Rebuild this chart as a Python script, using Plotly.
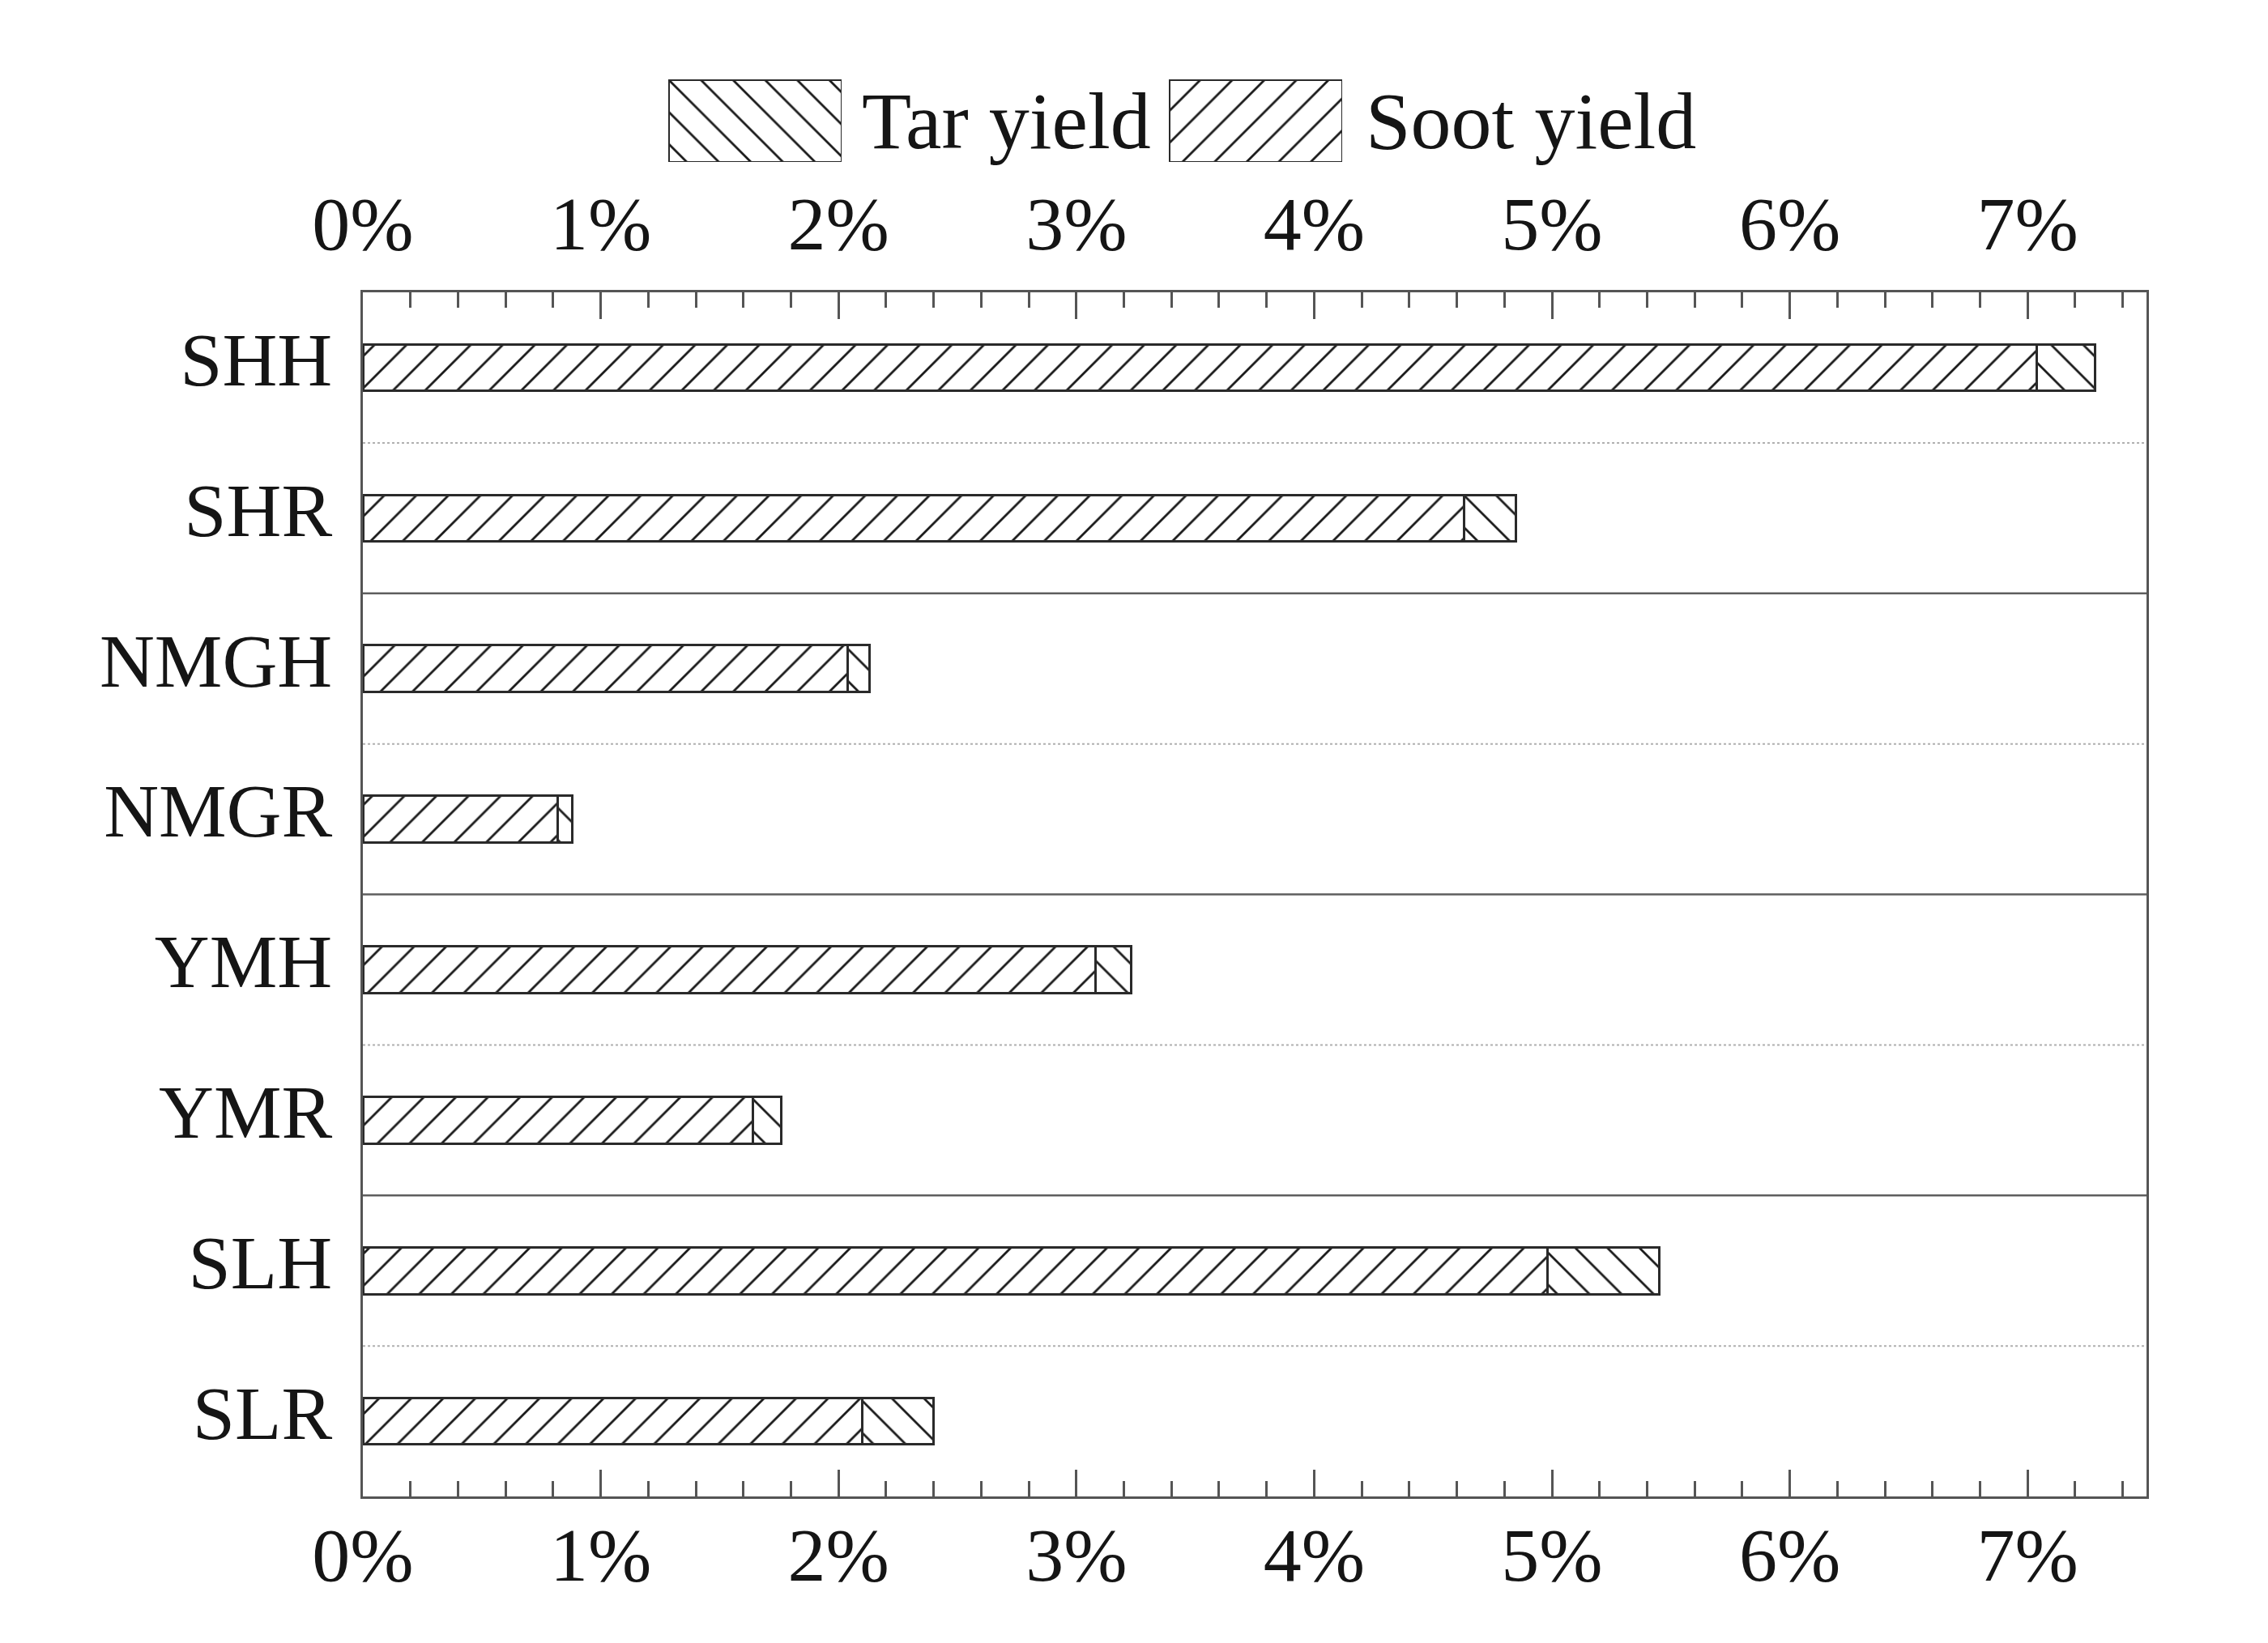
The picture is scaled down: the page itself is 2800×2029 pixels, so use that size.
import plotly.graph_objects as go

# ---- data (percent) ----
categories = ["SHH", "SHR", "NMGH", "NMGR", "YMH", "YMR", "SLH", "SLR"]
soot_yield = [7.04, 4.63, 2.04, 0.82, 3.08, 1.64, 4.98, 2.10]
tar_yield = [0.245, 0.22, 0.09, 0.06, 0.15, 0.12, 0.47, 0.30]
series_names = ["Tar yield", "Soot yield"]
x_ticks = [0, 1, 2, 3, 4, 5, 6, 7]
x_tick_text = ["0%", "1%", "2%", "3%", "4%", "5%", "6%", "7%"]
AXIS_MAX = 7.5
LEGEND_KEY_FULL = 1

# page body has an 8px margin; size the figure so it fills the window
OFF = 8
W, H = 2800 - OFF, 2029 - OFF
FONT = "Liberation Serif, Times New Roman, serif"
TXT = "#151515"
EDGE = "#2a2a2a"
HATCH = "#1a1a1a"
AX = "#555555"

# plot area in window pixels -> figure pixels
L, R, T, B = 448 - OFF, 2650 - OFF, 361 - OFF, 1848 - OFF
xdom = [L / W, R / W]
ydom = [1 - B / H, 1 - T / H]

def pat(shape):
    return dict(shape=shape, size=28, solidity=0.1, fgcolor=HATCH, fgopacity=1,
                bgcolor="white", fillmode="replace")

fig = go.Figure()
fig.add_trace(go.Bar(
    y=categories, x=soot_yield, orientation="h", name=series_names[1],
    width=0.31, showlegend=False,
    marker=dict(color="white", line=dict(color=EDGE, width=3), pattern=pat("/")),
))
fig.add_trace(go.Bar(
    y=categories, x=tar_yield, orientation="h", name=series_names[0],
    width=0.31, showlegend=False,
    marker=dict(color="white", line=dict(color=EDGE, width=3), pattern=pat("\\")),
))
# invisible copy on the top axis so that the top scale is drawn
fig.add_trace(go.Bar(
    y=categories, x=soot_yield, orientation="h", xaxis="x2", width=0.31,
    opacity=0, hoverinfo="skip", showlegend=False,
))

# legend keys as large hatched swatches on small auxiliary axes
key_boxes = {  # window-pixel boxes of the legend swatches
    "Tar yield": (825, 1039, 98, 200),
    "Soot yield": (1443, 1657, 98, 200),
}
key_shapes = {"Tar yield": "\\", "Soot yield": "/"}
text_x = {"Tar yield": 1062, "Soot yield": 1684}
for i, name in enumerate(series_names):
    x0, x1, y0, y1 = [v - OFF for v in key_boxes[name]]
    n = i + 3
    fig.add_trace(go.Bar(
        x=[LEGEND_KEY_FULL], y=[name], orientation="h", width=1,
        xaxis=f"x{n}", yaxis=f"y{n}", showlegend=False, hoverinfo="skip",
        cliponaxis=False,
        marker=dict(color="white", line=dict(color=EDGE, width=3), pattern=pat(key_shapes[name])),
    ))
    fig.update_layout(**{
        f"xaxis{n}": dict(domain=[x0 / W, x1 / W], range=[0, LEGEND_KEY_FULL], visible=False,
                          anchor=f"y{n}", fixedrange=True, automargin=False),
        f"yaxis{n}": dict(domain=[1 - y1 / H, 1 - y0 / H], range=[-0.5, 0.5], visible=False,
                          anchor=f"x{n}", fixedrange=True, automargin=False),
    })
    fig.add_annotation(
        text=name, x=(text_x[name] - OFF) / W, y=1 - (150 - OFF) / H, xref="paper", yref="paper",
        xanchor="left", yanchor="middle", showarrow=False,
        font=dict(family=FONT, size=100, color=TXT),
    )

# separator lines between categories
for i in range(len(categories) - 1):
    solid = (i % 2 == 1)
    fig.add_shape(
        type="line", xref="x domain", yref="y", x0=0, x1=1, y0=i + 0.5, y1=i + 0.5,
        line=dict(color="#5e5e5e" if solid else "#b0b0b0", width=2.5 if solid else 2,
                  dash="solid" if solid else "dot"),
        layer="below",
    )

xcommon = dict(
    range=[0, AXIS_MAX], tickvals=x_ticks, ticktext=x_tick_text,
    ticks="inside", ticklen=33, tickwidth=2.5, tickcolor=AX,
    minor=dict(dtick=0.2, ticks="inside", ticklen=19, tickwidth=2.5, tickcolor=AX),
    showgrid=False, zeroline=False, automargin=False,
    tickfont=dict(family=FONT, size=94, color=TXT),
)

fig.update_layout(
    width=W, height=H,
    margin=dict(l=0, r=0, t=0, b=0, autoexpand=False),
    paper_bgcolor="white", plot_bgcolor="white",
    barmode="stack",
    showlegend=False,
    xaxis=dict(domain=xdom, anchor="y", showline=True, linecolor=AX, linewidth=3,
               mirror=True, side="bottom", ticklabelstandoff=-12, **xcommon),
    xaxis2=dict(overlaying="x", anchor="y", side="top", showline=False,
                ticklabelstandoff=33, **xcommon),
    yaxis=dict(domain=ydom, anchor="x", type="category", categoryorder="array",
               categoryarray=categories, autorange="reversed",
               showline=True, linecolor=AX, linewidth=3, mirror=True,
               ticks="", showgrid=False, zeroline=False, automargin=False,
               tickfont=dict(family=FONT, size=94, color=TXT),
               ticklabelstandoff=16, ticklabelshift=11),
)

fig.write_html("out.html")
